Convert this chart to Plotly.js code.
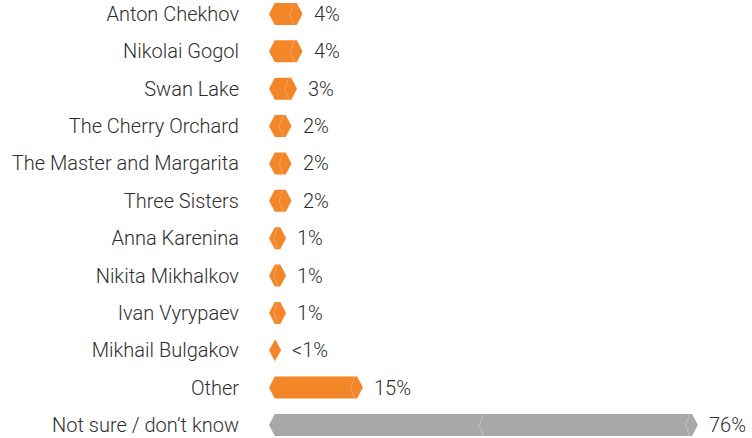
<!DOCTYPE html>
<html>
<head>
<meta charset="utf-8">
<script src="https://cdn.plot.ly/plotly-3.0.1.min.js"></script>
<style>html,body{margin:0;padding:0;background:#fff;}#chart{width:752px;height:438px;}</style>
</head>
<body>
<div id="chart"></div>
<script>
const categories = ["Anton Chekhov","Nikolai Gogol","Swan Lake","The Cherry Orchard","The Master and Margarita","Three Sisters","Anna Karenina","Nikita Mikhalkov","Ivan Vyrypaev","Mikhail Bulgakov","Other","Not sure / don\u2019t know"];
const values = [4,4,3,2,2,2,1,1,1,0.1,15,76];
const valueLabels = ["4%","4%","3%","2%","2%","2%","1%","1%","1%","<1%","15%","76%"];
const greyCategory = "Not sure / don\u2019t know";

const L = 269, W = 752 - L, H = 438;
const K = 5.49;               // px per percent
const xMax = W / K;
const rowPx = 37.36;
const P = 5.8 / K;            // point depth in data units
const h = 11 / rowPx;         // half bar height in row units
const ORANGE = "#F4862A", ORANGE_L = "#F8A764", GREY = "#A7A8AA", GREY_L = "#C4C5C7";
const FONT = {family: "Roboto, sans-serif", size: 20, color: "#2e2e2e", weight: 300};

function hexPts(v, i, xs, ys) {
  xs.push(0, P, P + v, 2 * P + v, P + v, P, 0, null);
  ys.push(i, i - h, i - h, i, i + h, i + h, i, null);
}
function chevron(xTop, i, xs, ys) {
  const d = 0.7 * P;
  xs.push(xTop, xTop - d, xTop, null);
  ys.push(i - h, i, i + h, null);
}

const oX = [], oY = [], gX = [], gY = [], ocX = [], ocY = [], gcX = [], gcY = [];
categories.forEach((c, i) => {
  const v = values[i];
  const grey = c === greyCategory;
  hexPts(v, i, grey ? gX : oX, grey ? gY : oY);
  if (v >= 1) chevron(P + v - 2.5 / K, i, grey ? gcX : ocX, grey ? gcY : ocY);
  if (grey) chevron(P + v / 2, i, gcX, gcY);
});

const traces = [
  {x: oX, y: oY, type: "scatter", mode: "lines", fill: "toself", fillcolor: ORANGE, line: {width: 0, color: ORANGE}, hoverinfo: "skip"},
  {x: gX, y: gY, type: "scatter", mode: "lines", fill: "toself", fillcolor: GREY, line: {width: 0, color: GREY}, hoverinfo: "skip"},
  {x: ocX, y: ocY, type: "scatter", mode: "lines", line: {width: 0.8, color: ORANGE_L}, hoverinfo: "skip"},
  {x: gcX, y: gcY, type: "scatter", mode: "lines", line: {width: 0.8, color: GREY_L}, hoverinfo: "skip"}
];

const annotations = categories.map((c, i) => ({
  x: 2 * P + values[i], y: i, xref: "x", yref: "y", text: valueLabels[i],
  showarrow: false, xanchor: "left", yanchor: "middle", xshift: 9,
  font: FONT
}));

const topOff = 14 / rowPx;
const layout = {
  width: 752, height: 438,
  margin: {l: L, r: 0, t: 0, b: 0, pad: 0},
  paper_bgcolor: "#fff", plot_bgcolor: "#fff",
  showlegend: false, hovermode: false,
  xaxis: {range: [0, xMax], visible: false, fixedrange: true},
  yaxis: {
    range: [H / rowPx - topOff, -topOff],
    tickmode: "array", tickvals: categories.map((c, i) => i), ticktext: categories,
    ticks: "outside", ticklen: 25, tickcolor: "rgba(0,0,0,0)",
    showgrid: false, zeroline: false, showline: false,
    tickfont: FONT,
    fixedrange: true
  },
  annotations: annotations
};

Plotly.newPlot("chart", traces, layout, {displayModeBar: false, staticPlot: true});
</script>
</body>
</html>
